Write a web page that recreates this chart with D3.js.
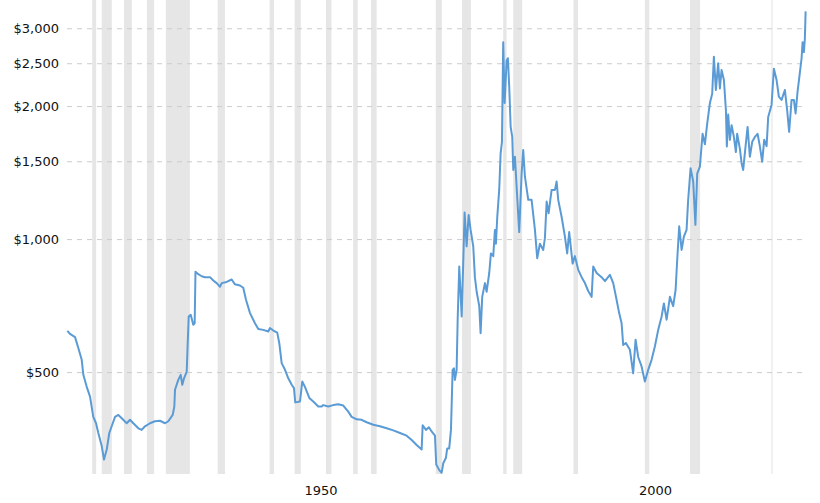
<!DOCTYPE html>
<html>
<head>
<meta charset="utf-8">
<script src="https://cdn.jsdelivr.net/npm/d3@7"></script>
<style>
  html, body { margin: 0; padding: 0; background: #fff; }
  svg { display: block; font-family: "DejaVu Sans", Verdana, sans-serif; }
</style>
</head>
<body>
<svg id="chart" width="820" height="503"></svg>
<script>
// Inflation-adjusted gold price (USD/oz)
const years = [
  1914.86,1915.26,1916.01,1916.50,1917.01,1917.25,1917.76,1918.25,1918.74,1919.15,
  1919.49,1920.00,1920.34,1920.75,1921.13,1921.49,1921.99,1922.48,1922.99,1923.73,
  1924.23,1924.72,1925.47,1925.97,1926.47,1927.21,1927.96,1928.71,1929.46,1929.95,
  1930.61,1930.85,1930.95,1931.44,1931.80,1932.04,1932.30,1932.70,1932.85,1933.00,
  1933.30,1933.68,1933.89,1934.01,1934.43,1934.94,1935.43,1936.18,1936.67,1937.18,
  1937.67,1937.93,1938.67,1939.42,1939.91,1940.66,1941.15,1941.56,1942.16,1942.90,
  1943.40,1944.14,1944.89,1945.14,1945.64,1946.23,1946.53,1946.89,1947.39,1947.88,
  1948.39,1948.73,1948.92,1949.63,1949.97,1950.37,1951.02,1951.61,1952.36,1952.87,
  1953.11,1953.85,1954.60,1955.35,1956.10,1956.84,1957.35,1958.10,1958.85,1959.59,
  1960.58,1961.58,1962.58,1963.57,1964.57,1965.57,1966.32,1967.06,1967.81,1967.96,
  1968.45,1968.90,1969.30,1969.80,1969.99,1970.44,1970.80,1971.04,1971.44,1971.63,
  1971.93,1972.19,1972.44,1972.64,1972.78,1973.04,1973.19,1973.43,1973.79,1974.02,
  1974.23,1974.53,1974.83,1975.13,1975.52,1975.77,1976.03,1976.42,1976.62,1976.86,
  1977.27,1977.52,1977.91,1978.16,1978.51,1978.76,1978.91,1979.11,1979.40,1979.61,
  1979.81,1980.00,1980.21,1980.51,1980.70,1980.90,1981.11,1981.35,1981.50,1981.75,
  1982.09,1982.39,1982.75,1982.99,1983.24,1983.74,1984.24,1984.74,1985.08,1985.48,
  1985.98,1986.23,1986.49,1986.78,1987.23,1987.73,1987.98,1988.22,1988.73,1989.22,
  1989.56,1989.86,1990.37,1990.71,1991.21,1991.72,1992.21,1992.70,1993.21,1993.45,
  1993.96,1994.70,1995.20,1995.94,1996.44,1996.94,1997.33,1997.69,1997.93,1998.33,
  1998.93,1999.42,1999.78,2000.17,2000.68,2001.17,2001.67,2002.17,2002.67,2003.16,
  2003.67,2004.01,2004.42,2004.91,2005.40,2005.76,2006.00,2006.30,2006.66,2007.00,
  2007.40,2007.64,2008.00,2008.39,2008.72,2008.99,2009.39,2009.79,2010.14,2010.48,
  2010.89,2011.23,2011.48,2011.78,2012.12,2012.38,2012.63,2012.98,2013.28,2013.42,
  2013.62,2013.87,2014.13,2014.47,2014.77,2014.96,2015.37,2015.62,2015.86,2016.22,
  2016.52,2016.86,2017.21,2017.61,2018.01,2018.35,2018.70,2019.00,2019.36,2019.60,
  2020.10,2020.45,2020.85,2021.19,2021.60,2022.09,2022.43,2022.73,2023.09,2023.44,
  2023.69,2023.99,2024.23,2024.59,2024.74,2024.93,2025.08,2025.19
];
const prices = [
  620,610,600,567,533,493,463,440,396,383,
  364,340,317,334,364,377,396,400,393,383,
  390,383,373,370,377,383,387,388,383,387,
  400,418,456,480,493,468,484,501,582,668,
  674,640,645,844,833,824,820,820,806,795,
  780,795,800,810,790,785,776,729,680,645,
  626,623,618,629,621,614,582,524,506,484,
  468,460,427,429,476,463,437,429,418,418,
  421,418,421,423,420,407,396,391,390,385,
  380,377,373,369,364,359,351,342,334,379,
  370,375,367,359,309,300,296,311,320,336,
  336,370,506,510,480,506,657,867,668,880,
  1148,963,1134,1049,963,819,760,705,612,740,
  795,760,838,928,915,1049,976,1122,1292,1561,
  1660,2790,2033,2532,2566,2207,1794,1703,1434,1536,
  1245,1037,1407,1591,1386,1227,1227,1049,905,976,
  945,1005,1216,1144,1292,1292,1350,1227,1122,1013,
  928,1037,880,915,852,820,795,763,740,867,
  838,820,803,830,795,729,680,645,576,582,
  562,497,592,541,515,476,506,533,572,623,
  668,715,657,740,705,767,897,1069,945,1013,
  1049,1227,1447,1350,1077,1407,1459,1731,1639,1823,
  2033,2132,2587,2175,2500,2192,2414,2292,1958,1620,
  1913,1677,1810,1703,1574,1731,1600,1487,1434,1623,
  1794,1536,1660,1703,1731,1623,1496,1677,1623,1890,
  2012,2430,2292,2102,2065,2175,1958,1749,2065,2065,
  1925,2158,2310,2566,2790,2650,2840,3276
];
// US recessions (start / end, decimal years)
const recessionStarts = [1918.58,1920.00,1923.33,1926.75,1929.58,1937.33,1945.08,1948.83,1953.50,1957.58,1960.25,1969.92,1973.83,1980.00,1981.50,1990.50,2001.17,2007.92,2020.08];
const recessionEnds   = [1919.17,1921.50,1924.50,1927.83,1933.17,1938.42,1945.75,1949.75,1954.33,1958.25,1961.08,1970.83,1975.17,1980.50,1982.83,1991.17,2001.83,2009.42,2020.25];
const yTicks = [500, 1000, 1500, 2000, 2500, 3000];
const xTicks = [1950, 2000];

const svg = d3.select("#chart");
const x = d3.scaleLinear().domain([1914.81, 2024.8]).range([67, 803]);
const y = d3.scaleLog().domain([294, 3476]).range([474, 0]);

// recession bands
svg.append("g").selectAll("rect")
  .data(recessionStarts.map((s, i) => ({s, e: recessionEnds[i]})))
  .join("rect")
  .attr("x", d => x(d.s))
  .attr("width", d => Math.max(1, x(d.e) - x(d.s)))
  .attr("y", 0)
  .attr("height", 474)
  .attr("fill", "#e6e6e6");

// horizontal grid + y labels
const yAxis = d3.axisLeft(y).tickValues(yTicks).tickFormat(d3.format("$,")).tickSize(-(803 - 67)).tickPadding(8);
const gy = svg.append("g").attr("transform", "translate(67,0)").call(yAxis);
gy.select(".domain").remove();
gy.selectAll(".tick line").attr("stroke", "#cccccc").attr("stroke-dasharray", "5,5");
gy.selectAll(".tick text").attr("font-size", 13).attr("fill", "#111")
  .attr("font-family", "'DejaVu Sans', Verdana, sans-serif");

// x labels
const xAxis = d3.axisBottom(x).tickValues(xTicks).tickFormat(d3.format("d")).tickSize(0);
const gx = svg.append("g").attr("transform", "translate(0,474)").call(xAxis);
gx.select(".domain").remove();
gx.selectAll(".tick text").attr("font-size", 13).attr("fill", "#111")
  .attr("font-family", "'DejaVu Sans', Verdana, sans-serif")
  .attr("text-anchor", "start").attr("x", 1.5).attr("dy", null).attr("y", 21);

// price line
const data = years.map((yr, i) => ({year: yr, price: prices[i]}));
svg.append("path")
  .datum(data)
  .attr("fill", "none")
  .attr("stroke", "#5b9bd5")
  .attr("stroke-width", 2)
  .attr("stroke-linejoin", "round")
  .attr("d", d3.line().x(d => x(d.year)).y(d => y(d.price)));
</script>
</body>
</html>
